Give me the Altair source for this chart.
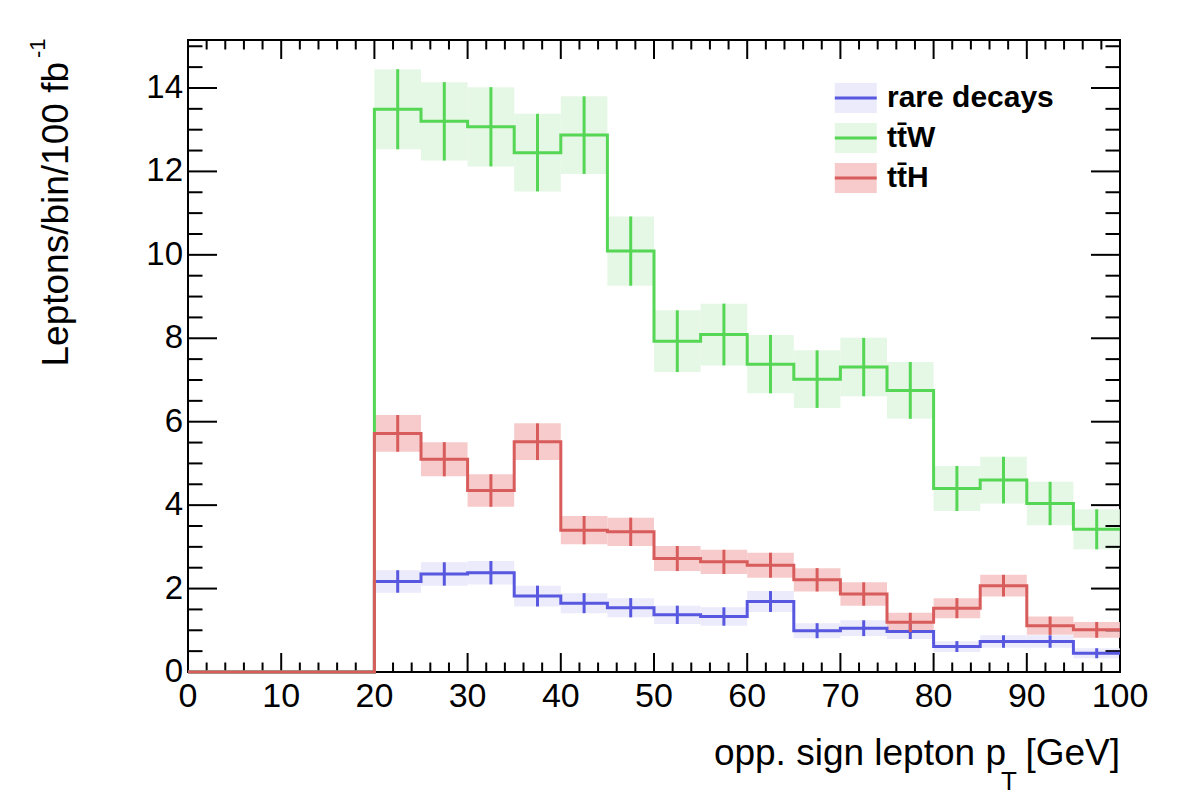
import altair as alt
import pandas as pd

# Bin edges of the opposite-sign lepton pT histogram [GeV]
edges = list(range(0, 105, 5))

# Expected leptons per bin per 100 fb^-1 and their uncertainties
rare_vals = [0, 0, 0, 0, 2.17, 2.35, 2.38, 1.82, 1.65, 1.54, 1.37, 1.33, 1.69, 0.99, 1.05, 0.97, 0.61, 0.73, 0.73, 0.45]
rare_errs = [0, 0, 0, 0, 0.27, 0.28, 0.28, 0.25, 0.24, 0.23, 0.22, 0.22, 0.25, 0.18, 0.19, 0.18, 0.13, 0.15, 0.15, 0.12]

ttw_vals = [0, 0, 0, 0, 13.49, 13.20, 13.07, 12.45, 12.87, 10.09, 7.93, 8.09, 7.38, 7.02, 7.31, 6.75, 4.40, 4.60, 4.04, 3.42]
ttw_errs = [0, 0, 0, 0, 0.96, 0.94, 0.95, 0.93, 0.93, 0.83, 0.74, 0.74, 0.70, 0.69, 0.70, 0.68, 0.54, 0.56, 0.52, 0.48]

tth_vals = [0, 0, 0, 0, 5.72, 5.10, 4.35, 5.52, 3.40, 3.36, 2.72, 2.64, 2.56, 2.21, 1.87, 1.19, 1.53, 2.07, 1.11, 1.01]
tth_errs = [0, 0, 0, 0, 0.44, 0.41, 0.39, 0.44, 0.34, 0.34, 0.30, 0.29, 0.30, 0.28, 0.28, 0.23, 0.24, 0.26, 0.22, 0.19]

series_names = ["rare decays", "t\u0074\u0304W", "t\u0074\u0304H"]
line_colors = ["#5757e0", "#55d655", "#d95c5c"]
band_colors = ["#e8e8fa", "#e0f6e0", "#f6c2c2"]

x_major = list(range(0, 101, 10))
x_minor = [v for v in range(0, 101, 2) if v % 10 != 0]
y_major = list(range(0, 15, 2))
y_minor = [v / 2 for v in range(0, 31) if v % 4 != 0]

X_MAX, Y_MAX = 100, 15.15
W, H = 932, 632
FONT = "Liberation Sans"

xs = alt.Scale(domain=[0, X_MAX], nice=False, zero=False)
ys = alt.Scale(domain=[0, Y_MAX], nice=False, zero=False)


def step_frame(vals):
    return pd.DataFrame({"x": edges, "y": vals + [vals[-1]]})


def bin_frame(vals, errs):
    rows = []
    for i, (v, e) in enumerate(zip(vals, errs)):
        if v > 0:
            lo, hi = edges[i], edges[i + 1]
            rows.append({"lo": lo, "hi": hi, "mid": (lo + hi) / 2,
                         "v": v, "down": v - e, "up": v + e})
    return pd.DataFrame(rows)


all_series = [(rare_vals, rare_errs), (ttw_vals, ttw_errs), (tth_vals, tth_errs)]

layers = []

# Uncertainty bands
for (vals, errs), bc in zip(all_series, band_colors):
    layers.append(
        alt.Chart(bin_frame(vals, errs)).mark_rect(color=bc, opacity=0.85).encode(
            x=alt.X("lo:Q", scale=xs, axis=None), x2="hi:Q",
            y=alt.Y("down:Q", scale=ys, axis=None), y2="up:Q",
        )
    )

# Inward ticks on all four sides of the frame
def xticks(values, length):
    d = pd.DataFrame({"x": values})
    bottom = alt.Chart(d).mark_rule(color="black", strokeWidth=2).encode(
        x=alt.X("x:Q", scale=xs, axis=None), y=alt.value(H), y2=alt.value(H - length))
    top = alt.Chart(d).mark_rule(color="black", strokeWidth=2).encode(
        x=alt.X("x:Q", scale=xs, axis=None), y=alt.value(0), y2=alt.value(length))
    return [bottom, top]


def yticks(values, length):
    d = pd.DataFrame({"y": values})
    left = alt.Chart(d).mark_rule(color="black", strokeWidth=2).encode(
        y=alt.Y("y:Q", scale=ys, axis=None), x=alt.value(0), x2=alt.value(length))
    right = alt.Chart(d).mark_rule(color="black", strokeWidth=2).encode(
        y=alt.Y("y:Q", scale=ys, axis=None), x=alt.value(W), x2=alt.value(W - length))
    return [left, right]


layers += xticks(x_major, 19) + xticks(x_minor, 9.5)
layers += yticks(y_major, 29) + yticks(y_minor, 14.5)

# Histogram outlines and error bars
for (vals, errs), lc in zip(all_series, line_colors):
    layers.append(
        alt.Chart(step_frame(vals)).mark_line(
            color=lc, strokeWidth=3, interpolate="step-after"
        ).encode(
            x=alt.X("x:Q", scale=xs, axis=None),
            y=alt.Y("y:Q", scale=ys, axis=None),
        )
    )
    layers.append(
        alt.Chart(bin_frame(vals, errs)).mark_rule(color=lc, strokeWidth=3).encode(
            x=alt.X("mid:Q", scale=xs, axis=None),
            y=alt.Y("down:Q", scale=ys, axis=None), y2="up:Q",
        )
    )

# Tick labels
layers.append(
    alt.Chart(pd.DataFrame({"v": x_major})).mark_text(
        font=FONT, fontSize=34, align="center", baseline="top", color="black", dy=8
    ).encode(
        x=alt.X("v:Q", scale=xs, axis=None), y=alt.value(H),
        text=alt.Text("v:Q", format="d"),
    )
)
layers.append(
    alt.Chart(pd.DataFrame({"v": y_major})).mark_text(
        font=FONT, fontSize=33, align="right", baseline="middle", color="black"
    ).encode(
        y=alt.Y("v:Q", scale=ys, axis=None), x=alt.value(-5),
        text=alt.Text("v:Q", format="d"),
    )
)

# Legend: band swatch, line sample and bold label for each sample
legend_df = pd.DataFrame({
    "name": series_names,
    "yc": [13.76, 12.80, 11.84],
    "line": line_colors,
    "band": band_colors,
})
legend_df["ylo"] = legend_df["yc"] - 0.36
legend_df["yhi"] = legend_df["yc"] + 0.36
legend_df["x0"] = 69.4
legend_df["x1"] = 73.9
legend_df["xt"] = 75.0

layers.append(
    alt.Chart(legend_df).mark_rect(opacity=0.85).encode(
        x=alt.X("x0:Q", scale=xs, axis=None), x2="x1:Q",
        y=alt.Y("ylo:Q", scale=ys, axis=None), y2="yhi:Q",
        color=alt.Color("band:N", scale=None),
    )
)
layers.append(
    alt.Chart(legend_df).mark_rule(strokeWidth=3).encode(
        x=alt.X("x0:Q", scale=xs, axis=None), x2="x1:Q",
        y=alt.Y("yc:Q", scale=ys, axis=None),
        color=alt.Color("line:N", scale=None),
    )
)
layers.append(
    alt.Chart(legend_df).mark_text(
        align="left", baseline="middle", font=FONT, fontSize=30,
        fontWeight="bold", color="black"
    ).encode(
        x=alt.X("xt:Q", scale=xs, axis=None),
        y=alt.Y("yc:Q", scale=ys, axis=None),
        text="name:N",
    )
)

# Axis titles
def label(text, x, y, size, align, baseline="alphabetic", angle=0):
    return alt.Chart(pd.DataFrame({"t": [text]})).mark_text(
        font=FONT, fontSize=size, align=align, baseline=baseline,
        angle=angle, color="black"
    ).encode(x=alt.value(x), y=alt.value(y), text="t:N")


layers.append(label("opp. sign lepton p", 818, 725, 37, "right"))
layers.append(label("T", 813, 750, 26, "left"))
layers.append(label("[GeV]", 932, 725, 37, "right"))
layers.append(label("Leptons/bin/100 fb", -120, 22, 37, "right", angle=270))
layers.append(label("-1", -143, 18, 22, "left", angle=270))

chart = alt.layer(*layers).properties(
    width=W, height=H,
    padding={"left": 188, "top": 40, "right": 62, "bottom": 128},
    autosize=alt.AutoSizeParams(type="none"),
    background="white",
).configure_view(stroke="black", strokeWidth=2)

chart.save("out.html", embed_options={"renderer": "svg", "actions": False})
